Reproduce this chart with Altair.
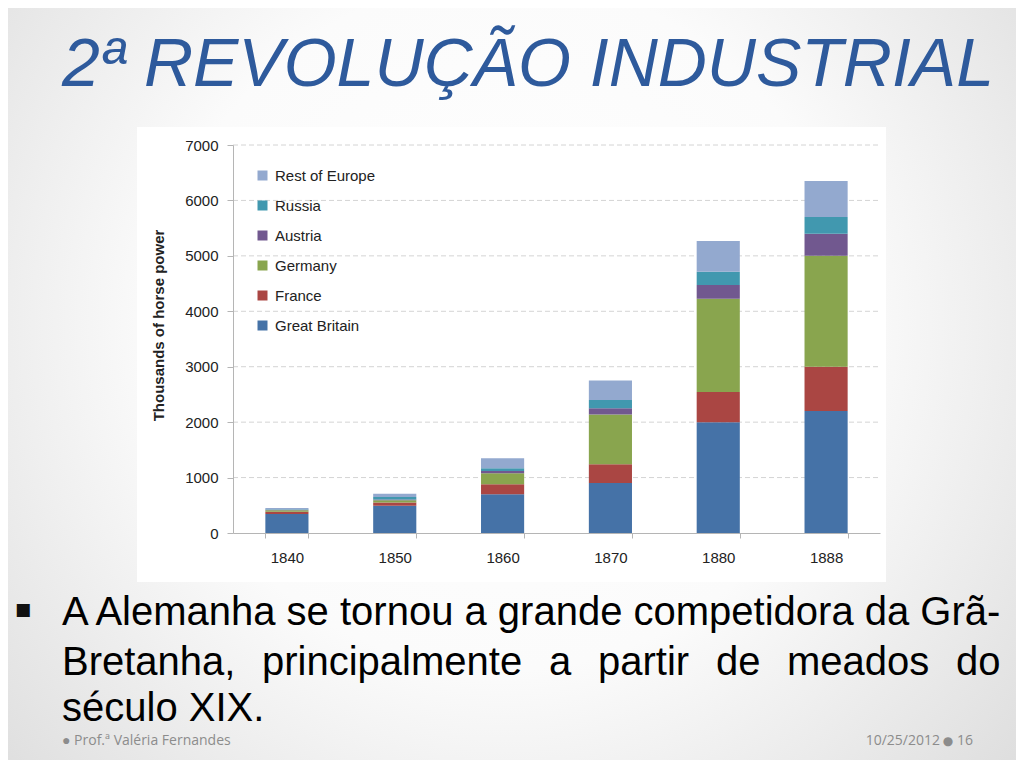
import altair as alt
import pandas as pd

# ---------------- data ----------------
years = ["1840", "1850", "1860", "1870", "1880", "1888"]
great_britain = [345, 490, 700, 900, 2000, 2200]
france = [40, 60, 180, 340, 545, 800]
germany = [25, 40, 200, 900, 1680, 2000]
austria = [10, 15, 40, 110, 250, 400]
russia = [10, 45, 50, 150, 240, 300]
rest_of_europe = [20, 60, 180, 350, 555, 650]

series_names = ["Great Britain", "France", "Germany", "Austria", "Russia", "Rest of Europe"]
series_values = [great_britain, france, germany, austria, russia, rest_of_europe]
series_colors = ["#4572A7", "#AA4643", "#89A54E", "#71588F", "#4198AF", "#93A9CF"]
y_ticks = [0, 1000, 2000, 3000, 4000, 5000, 6000, 7000]
grid_lines = [1000, 2000, 3000, 4000, 5000, 6000, 7000]

rows = []
for i, (name, vals) in enumerate(zip(series_names, series_values)):
    for y, v in zip(years, vals):
        rows.append({"year": y, "series": name, "value": v, "idx": i})
df = pd.DataFrame(rows)

# ---------------- layout ----------------
PW, PH = 647, 388          # plot area
OX, OY = 233, 145          # plot origin on the page
PAGE_W, PAGE_H = 1008, 752


def px(x):
    return x - OX


def py(y):
    return y - OY


one = pd.DataFrame({"k": [0]})

y_axis = alt.Axis(
    values=y_ticks, grid=False, title="Thousands of horse power", zindex=1, format="d",
    titleFontSize=15, titleFontWeight="bold", titleColor="#222222",
    titleFont="Liberation Sans", titleX=-75, titleY=180, titleBaseline="middle",
    labelFontSize=15, labelColor="#222222", labelFont="Liberation Sans",
    labelPadding=9, tickSize=6, tickColor="#b5b5b5", domainColor="#b5b5b5",
)
y_scale = alt.Scale(domain=[0, 7000], nice=False)

background = alt.Chart(one).mark_rect(
    color=alt.Gradient(
        gradient="radial",
        x1=0.5, y1=0.45, r1=0.0, x2=0.5, y2=0.45, r2=0.75,
        stops=[alt.GradientStop(color="#ffffff", offset=0),
               alt.GradientStop(color="#fbfbfb", offset=0.45),
               alt.GradientStop(color="#d6d6d6", offset=1)],
    )
).encode(
    x=alt.value(px(-8)), x2=alt.value(px(PAGE_W + 8)),
    y=alt.value(py(-8)), y2=alt.value(py(PAGE_H + 8)),
)

white_box = alt.Chart(one).mark_rect(color="white").encode(
    x=alt.value(px(137)), x2=alt.value(px(886)),
    y=alt.value(py(127)), y2=alt.value(py(582)),
)

grid = alt.Chart(pd.DataFrame({"value": grid_lines})).mark_rule(
    color="#d4d4d4", strokeDash=[5, 3], strokeWidth=1
).encode(
    y=alt.Y("value:Q", scale=y_scale, axis=y_axis),
    x=alt.value(0), x2=alt.value(PW),
)

bars = alt.Chart(df).mark_bar().encode(
    x=alt.X("year:N", sort=years,
            scale=alt.Scale(paddingInner=0.6, paddingOuter=0.3),
            axis=alt.Axis(title=None, labelAngle=0, labelFontSize=15, zindex=1,
                          labelColor="#222222", labelFont="Liberation Sans",
                          labelPadding=12, tickSize=5, tickBand="extent",
                          tickColor="#b5b5b5", domainColor="#b5b5b5")),
    y=alt.Y("value:Q", stack="zero", scale=y_scale, axis=y_axis),
    color=alt.Color("series:N",
                    scale=alt.Scale(domain=series_names[::-1], range=series_colors[::-1]),
                    legend=alt.Legend(title=None, orient="none", legendX=22, legendY=23,
                                      symbolType="square", symbolSize=100, zindex=1,
                                      symbolStrokeWidth=0, labelFontSize=15,
                                      labelFont="Liberation Sans", labelColor="#222222",
                                      rowPadding=14, labelOffset=5, padding=0)),
    order=alt.Order("idx:Q", sort="ascending"),
)


def txt(text, x, y, size, color="#000000", font="Liberation Sans", style="normal",
        weight="normal", align="left", baseline="alphabetic", opacity=1.0):
    return alt.Chart(pd.DataFrame({"t": [text]})).mark_text(
        fontSize=size, color=color, font=font, fontStyle=style, fontWeight=weight,
        align=align, baseline=baseline, opacity=opacity,
    ).encode(text="t:N", x=alt.value(px(x)), y=alt.value(py(y)))


title_text = "2ª REVOLUÇÃO INDUSTRIAL"
title = txt(title_text, 62, 86, 68, color="#2E5A9C", style="italic")

bullet = txt("■", 23, 615, 17, color="#111111", font="DejaVu Sans", align="center")
line1 = txt("A Alemanha se tornou a grande competidora da Grã-", 62, 625, 40)
line2_words = ["Bretanha,", "principalmente", "a", "partir", "de", "meados", "do"]
line2_x = [62, 262, 549, 598, 716, 787, 956]
line2 = [txt(w, x, 675, 40) for w, x in zip(line2_words, line2_x)]
line3 = txt("século XIX.", 62, 721, 40)

footer_left = txt("● Prof.ª Valéria Fernandes", 62, 745, 14, color="#8c8c8c", font="Open Sans")
footer_date = txt("10/25/2012", 940, 745, 14, color="#8c8c8c", font="Open Sans", align="right")
footer_dot = txt("●", 948, 745, 12, color="#8c8c8c", font="DejaVu Sans", align="center")
footer_num = txt("16", 957, 745, 14, color="#8c8c8c", font="Open Sans")

chart = alt.layer(
    background, white_box, grid, bars,
    title, bullet, line1, *line2, line3,
    footer_left, footer_date, footer_dot, footer_num,
).properties(
    width=PW, height=PH,
    padding={"left": OX - 8, "top": OY - 8,
             "right": PAGE_W - (OX - 8) - PW, "bottom": PAGE_H - (OY - 8) - PH},
    autosize=alt.AutoSizeParams(type="none"),
).configure_view(stroke=None).configure(background="#e4e4e4")

chart.save("out.html", embed_options={"renderer": "svg", "actions": False})
